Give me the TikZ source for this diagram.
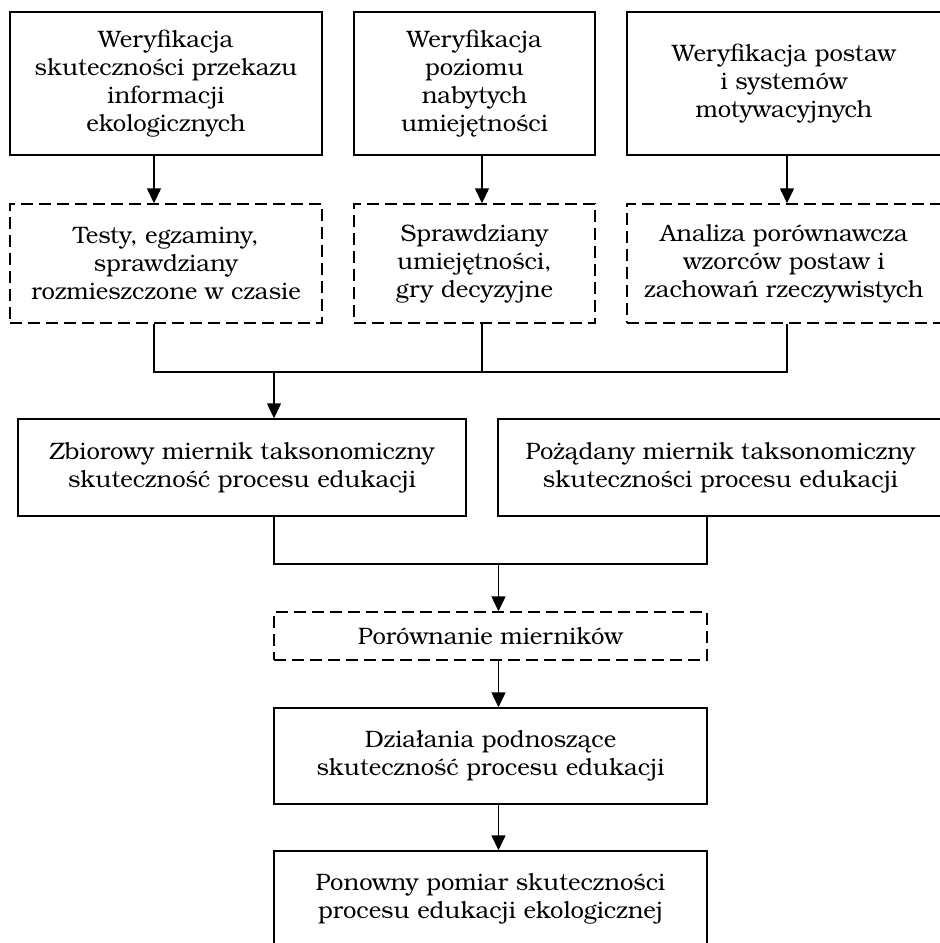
\documentclass[tikz,border=0pt]{standalone}
\usepackage{fontspec}
\setmainfont{TeX Gyre Bonum}
\usetikzlibrary{arrows.meta}
\begin{document}
\begin{tikzpicture}[x=1pt,y=-1pt,
  box/.style={draw, line width=1.4pt, inner sep=0pt, align=center,
    font=\fontsize{23.8}{28}\selectfont},
  dbox/.style={box, dash pattern=on 12pt off 6pt},
  conn/.style={line width=1.4pt},
  arr/.style={line width=1.4pt, -{Triangle[length=15pt,width=14pt]}}]
\useasboundingbox (0,0) rectangle (940,943);
% top row
\node[box, minimum width=312pt, minimum height=143pt] (b1) at (166,83.5)
  {Weryfikacja\\skuteczności przekazu\\informacji\\ekologicznych};
\node[box, minimum width=241pt, minimum height=143pt] (b2) at (474.5,83.5)
  {Weryfikacja\\poziomu\\nabytych\\umiejętności};
\node[box, minimum width=314pt, minimum height=143pt] (b3) at (784,83.5)
  {Weryfikacja postaw\\i systemów\\motywacyjnych};
% dashed row
\node[dbox, minimum width=312pt, minimum height=119pt] (d1) at (166,263.5)
  {Testy, egzaminy,\\sprawdziany\\rozmieszczone w czasie};
\node[dbox, minimum width=241pt, minimum height=119pt] (d2) at (474.5,263.5)
  {Sprawdziany\\umiejętności,\\gry decyzyjne};
\node[dbox, minimum width=314pt, minimum height=119pt] (d3) at (784,263.5)
  {Analiza porównawcza\\wzorców postaw i\\zachowań rzeczywistych};
% middle row
\node[box, minimum width=448pt, minimum height=97pt] (z) at (242,467.5)
  {Zbiorowy miernik taksonomiczny\\skuteczność procesu edukacji};
\node[box, minimum width=445pt, minimum height=97pt] (p) at (720.5,467.5)
  {Pożądany miernik taksonomiczny\\skuteczności procesu edukacji};
% bottom column
\node[dbox, minimum width=433pt, minimum height=48pt] (c) at (490.5,636)
  {Porównanie mierników};
\node[box, minimum width=433pt, minimum height=96pt] (a) at (490.5,756)
  {Działania podnoszące\\skuteczność procesu edukacji};
\node[box, minimum width=433pt, minimum height=96pt] (r) at (490.5,899)
  {Ponowny pomiar skuteczności\\procesu edukacji ekologicznej};
% coordinates of junctions
\coordinate (j1) at (154,372);
\coordinate (j3) at (787,372);
\coordinate (jm) at (274,372);
\coordinate (k1) at (274,564);
\coordinate (k2) at (707,564);
\coordinate (km) at (498.5,564);
% arrows top -> dashed
\draw[arr] ([xshift=-12pt]b1.south) -- ([xshift=-12pt]d1.north);
\draw[arr] ([xshift=7.5pt]b2.south) -- ([xshift=7.5pt]d2.north);
\draw[arr] ([xshift=3pt]b3.south) -- ([xshift=3pt]d3.north);
% merge dashed -> Z
\draw[conn] ([xshift=-12pt]d1.south) -- (j1) -- (j3) -- ([xshift=3pt]d3.south);
\draw[conn] ([xshift=7.5pt]d2.south) -- ([xshift=7.5pt]d2.south |- j1);
\draw[arr] (jm) -- (jm |- z.north);
% merge Z, P -> C
\draw[conn] (z.south -| k1) -- (k1) -- (k2) -- (p.south -| k2);
\draw[arr] (km) -- (km |- c.north);
\draw[arr] (c.south -| km) -- (a.north -| km);
\draw[arr] (a.south -| km) -- (r.north -| km);
\end{tikzpicture}
\end{document}
